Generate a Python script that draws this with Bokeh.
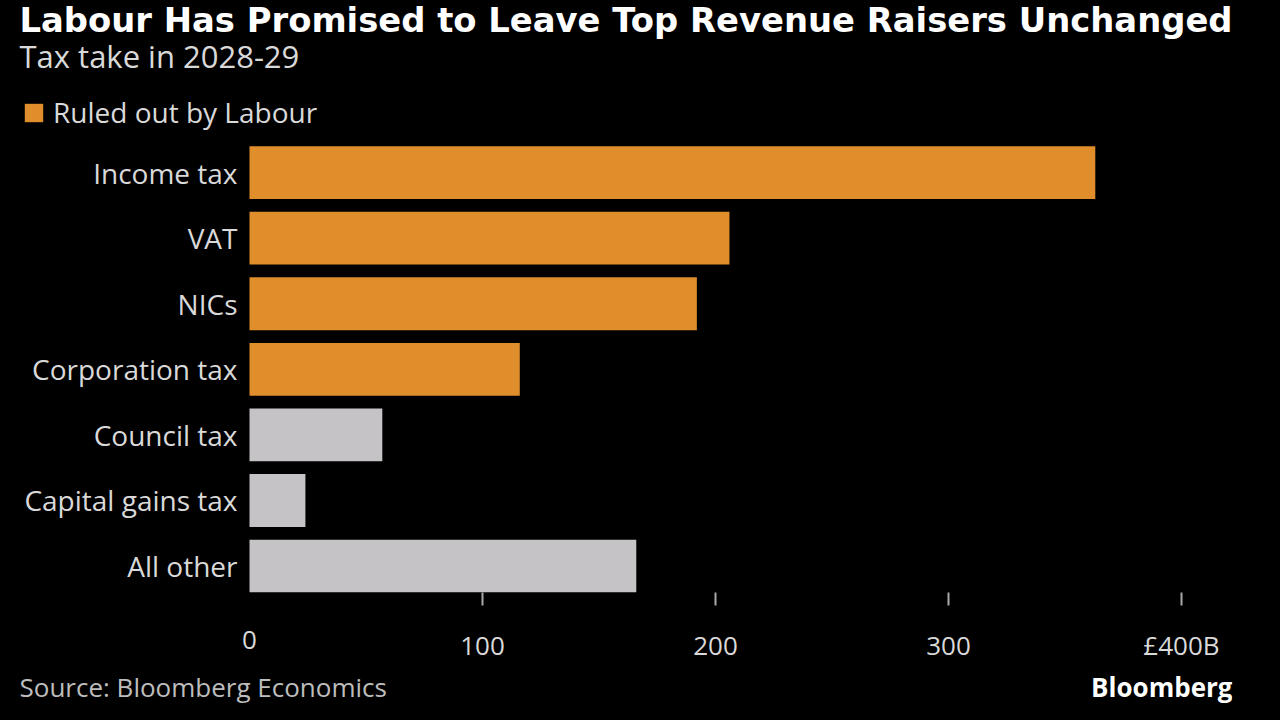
from bokeh.plotting import figure
from bokeh.layouts import column
from bokeh.models import (ColumnDataSource, Range1d, LinearAxis, FixedTicker,
                          Legend, LegendItem, Label, GlobalInlineStyleSheet)
from bokeh.core.properties import value
from bokeh.embed import file_html
from bokeh.resources import INLINE

# ---- data ----
categories = ["Income tax", "VAT", "NICs", "Corporation tax",
              "Council tax", "Capital gains tax", "All other"]
values = [363, 206, 192, 116, 57, 24, 166]
ruled_out = [True, True, True, True, False, False, False]
x_ticks = [0, 100, 200, 300, 400]
x_tick_labels = ["0", "100", "200", "300", "£400B"]

title_text = "Labour Has Promised to Leave Top Revenue Raisers Unchanged"
subtitle_text = "Tax take in 2028-29"
legend_text = "Ruled out by Labour"
source_text = "Source: Bloomberg Economics"
brand_text = "Bloomberg"

ORANGE = "#E08E2B"
GREY = "#C5C3C5"
TXT = "#D9D9D9"
FONT = "Open Sans"

idx = list(range(len(categories)))
src_on = ColumnDataSource(dict(
    y=[i for i, r in zip(idx, ruled_out) if r],
    v=[v for v, r in zip(values, ruled_out) if r]))
src_off = ColumnDataSource(dict(
    y=[i for i, r in zip(idx, ruled_out) if not r],
    v=[v for v, r in zip(values, ruled_out) if not r]))
src_lab = ColumnDataSource(dict(y=idx, x=[0 for _ in categories], name=categories))

css = GlobalInlineStyleSheet(css="html, body { background-color: #000000; }")

# ---- main chart ----
p = figure(width=1264, height=665,
           x_range=Range1d(-99.14, 421.89), y_range=Range1d(6.403, -2.624),
           output_backend="svg", toolbar_location=None,
           x_axis_location=None, y_axis_location=None,
           min_border_left=18, min_border_right=32,
           min_border_top=0, min_border_bottom=0,
           background_fill_color="black", border_fill_color="black",
           outline_line_color=None)
p.center = []
p.styles = {"background-color": "black"}
p.stylesheets = [css]

r_on = p.hbar(y="y", right="v", left=0, height=0.806, source=src_on,
              fill_color=ORANGE, line_color=None)
r_off = p.hbar(y="y", right="v", left=0, height=0.806, source=src_off,
               fill_color=GREY, line_color=None)

# category labels next to the bars' baseline
p.text(x="x", y="y", text="name", source=src_lab, x_offset=-12,
       text_align="right", text_baseline="middle",
       text_font=value(FONT), text_font_size="28px", text_color=TXT)

# x axis A: tick marks + labels 100..400
xax = LinearAxis(ticker=FixedTicker(ticks=x_ticks[1:]),
                 major_label_overrides={t: l for t, l in zip(x_ticks, x_tick_labels)},
                 axis_line_color=None, major_tick_in=0, major_tick_out=13,
                 major_tick_line_color="#A8A8A8", major_tick_line_width=2,
                 minor_tick_line_color=None, minor_tick_out=0,
                 major_label_standoff=21,
                 major_label_text_font=FONT,
                 major_label_text_font_size="26px",
                 major_label_text_color=TXT)
p.add_layout(xax, "below")
# x axis B: the "0" label, without a tick mark, level with the others
xax0 = LinearAxis(ticker=FixedTicker(ticks=x_ticks[:1]),
                  major_label_overrides={x_ticks[0]: x_tick_labels[0]},
                  axis_line_color=None, major_tick_line_color=None,
                  major_tick_in=0, major_tick_out=0,
                  minor_tick_line_color=None, minor_tick_out=0,
                  major_label_standoff=-35,
                  major_label_text_font=FONT,
                  major_label_text_font_size="26px",
                  major_label_text_color=TXT)
p.add_layout(xax0, "below")

# legend (inside the frame, top-left)
legend = Legend(items=[LegendItem(label=legend_text, renderers=[r_on])],
                location=(4, 461), orientation="horizontal",
                glyph_width=23, glyph_height=23, label_standoff=8,
                padding=0, margin=0, spacing=0,
                border_line_color=None, background_fill_alpha=0,
                label_text_font=FONT, label_text_font_size="28px",
                label_text_color=TXT)
p.add_layout(legend)

# headline texts
p.add_layout(Label(x=19, y=20, x_units="canvas", y_units="canvas",
                   text=title_text, text_font="DejaVu Sans", text_font_style="bold",
                   text_font_size="33.8px", text_color="white",
                   text_baseline="middle"))
p.add_layout(Label(x=19, y=55, x_units="canvas", y_units="canvas",
                   text=subtitle_text, text_font=FONT,
                   text_font_size="31px", text_color=TXT,
                   text_baseline="middle"))

# ---- footer strip ----
f = figure(width=1264, height=39, x_range=Range1d(0, 1), y_range=Range1d(0, 1),
           output_backend="svg", toolbar_location=None,
           x_axis_location=None, y_axis_location=None,
           min_border_left=0, min_border_right=0,
           min_border_top=0, min_border_bottom=0,
           background_fill_color="black", border_fill_color="black",
           outline_line_color=None)
f.center = []
f.styles = {"background-color": "black"}
f.add_layout(Label(x=19, y=21, x_units="canvas", y_units="canvas",
                   text=source_text, text_font=FONT,
                   text_font_size="26px", text_color="#BDBDBD",
                   text_baseline="middle"))
f.add_layout(Label(x=1232, y=21, x_units="canvas", y_units="canvas",
                   text=brand_text, text_font=FONT, text_font_style="bold",
                   text_font_size="26px", text_color="white",
                   text_align="right", text_baseline="middle"))

page = column(p, f, spacing=0)
open("out.html", "w").write(file_html(page, INLINE))
